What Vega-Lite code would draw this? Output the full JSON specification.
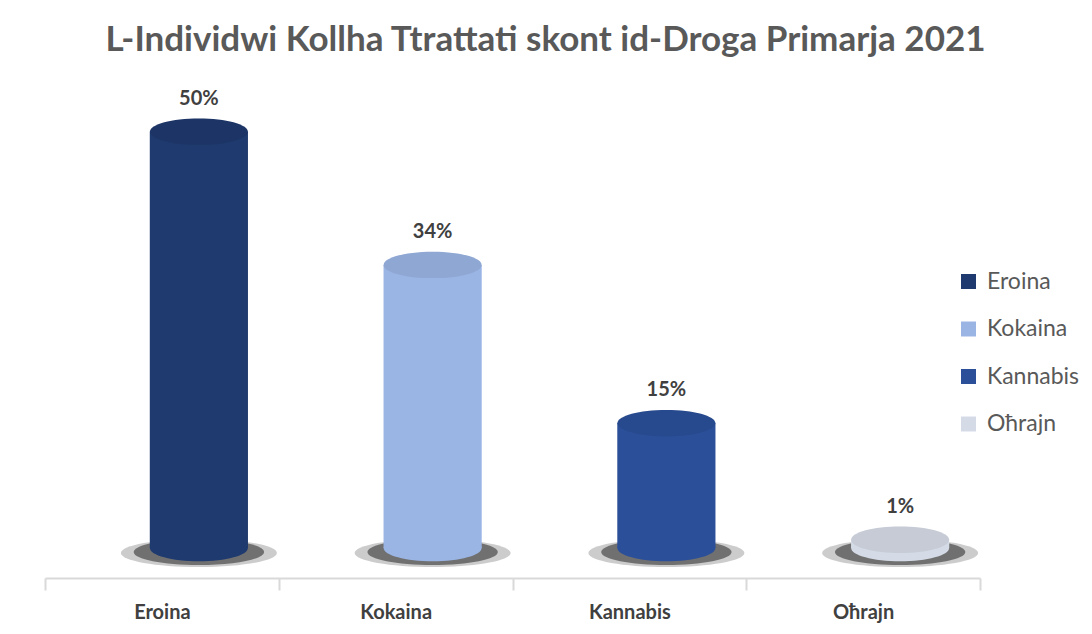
{
  "$schema": "https://vega.github.io/schema/vega-lite/v6.json",
  "width": 935,
  "height": 488,
  "autosize": {"type": "none"},
  "padding": {"left": 45, "top": 90, "right": 112, "bottom": 56},
  "background": "white",
  "title": {
    "text": "L-Individwi Kollha Ttrattati skont id-Droga Primarja 2021",
    "font": "Lato", "fontSize": 35, "fontWeight": "bold", "color": "#595959",
    "anchor": "middle", "offset": 31, "dx": 33
  },
  "config": {"view": {"stroke": null}},
  "data": {"values": [
    {"droga": "Eroina", "perc": 0.50},
    {"droga": "Kokaina", "perc": 0.34},
    {"droga": "Kannabis", "perc": 0.15},
    {"droga": "Oħrajn", "perc": 0.01}
  ]},
  "encoding": {
    "x": {
      "field": "droga", "type": "nominal", "sort": null,
      "scale": {"paddingInner": 0, "paddingOuter": 0},
      "axis": {
        "title": null, "labelAngle": 0, "labelFont": "Lato", "labelFontSize": 20,
        "labelFontWeight": "bold", "labelColor": "#404040", "labelPadding": 12,
        "domainColor": "#d9d9d9", "domainWidth": 2, "tickColor": "#d9d9d9",
        "tickSize": 12, "tickWidth": 2, "tickBand": "extent"
      }
    },
    "y": {
      "field": "perc", "type": "quantitative",
      "scale": {"domain": [-0.036, 0.55], "nice": false, "zero": false},
      "axis": null
    },
    "color": {
      "field": "droga", "type": "nominal", "sort": null,
      "scale": {
        "domain": ["Eroina", "Kokaina", "Kannabis", "Oħrajn"],
        "range": ["#1f3a6e", "#9ab4e4", "#2b4f98", "#d5dbe6"]
      },
      "legend": {
        "title": null, "orient": "none", "legendX": 912, "legendY": 180,
        "labelFont": "Lato", "labelFontSize": 23, "labelColor": "#595959",
        "symbolType": "square", "symbolSize": 225, "symbolStrokeWidth": 0,
        "rowPadding": 23.5, "labelOffset": 7
      }
    }
  },
  "layer": [
    {
      "mark": {"type": "point", "filled": true, "opacity": 0.2, "strokeWidth": 0,
        "shape": "M -1 0 A 1 0.18 0 1 0 1 0 A 1 0.18 0 1 0 -1 0 Z", "size": 24336, "xOffset": 37, "yOffset": 5},
      "encoding": {"y": {"datum": 0}, "color": {"value": "#000000"}}
    },
    {
      "mark": {"type": "point", "filled": true, "opacity": 0.45, "strokeWidth": 0,
        "shape": "M -1 0 A 1 0.2 0 1 0 1 0 A 1 0.2 0 1 0 -1 0 Z", "size": 17000, "xOffset": 37, "yOffset": 4},
      "encoding": {"y": {"datum": 0}, "color": {"value": "#000000"}}
    },
    {
      "mark": {"type": "point", "filled": true, "opacity": 1, "strokeWidth": 0,
        "shape": "M -1 0 A 1 0.27 0 1 0 1 0 A 1 0.27 0 1 0 -1 0 Z", "size": 9604, "xOffset": 37},
      "encoding": {"y": {"datum": 0}}
    },
    {
      "mark": {"type": "bar", "width": {"band": 0.42}, "xOffset": 37},
      "encoding": {"y2": {"datum": 0}}
    },
    {
      "mark": {"type": "point", "filled": true, "opacity": 1, "strokeWidth": 0,
        "shape": "M -1 0 A 1 0.27 0 1 0 1 0 A 1 0.27 0 1 0 -1 0 Z", "size": 9604, "xOffset": 37}
    },
    {
      "mark": {"type": "point", "filled": true, "opacity": 0.07, "strokeWidth": 0,
        "shape": "M -1 0 A 1 0.27 0 1 0 1 0 A 1 0.27 0 1 0 -1 0 Z", "size": 9604, "xOffset": 37},
      "encoding": {"color": {"value": "#000000"}}
    },
    {
      "mark": {"type": "text", "font": "Lato", "fontSize": 20, "fontWeight": "bold", "color": "#404040",
        "dy": -33, "xOffset": 37, "baseline": "middle"},
      "encoding": {"text": {"field": "perc", "type": "quantitative", "format": ".0%"}, "color": {"value": "#404040"}}
    }
  ]
}
